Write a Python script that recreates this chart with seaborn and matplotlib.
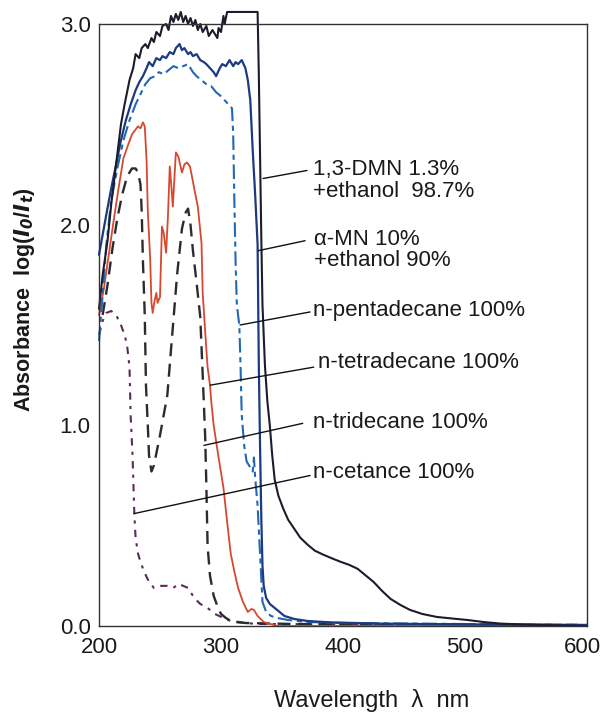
import numpy as np
import pandas as pd
import matplotlib
matplotlib.use("Agg")
import matplotlib.pyplot as plt
import matplotlib.transforms as mtransforms
import seaborn as sns

# ---------------- data ----------------
dmn_wl = [200, 203, 207, 210, 214, 218, 221, 225, 228, 230, 233, 235, 238, 240, 243, 245, 247,
          250, 252, 255, 257, 259, 261, 263, 265, 267, 269, 271, 273, 275, 277, 279, 281, 283,
          285, 288, 290, 293, 295, 297, 298, 300, 302, 303, 305, 330, 331, 332, 333, 334, 336,
          338, 340, 342, 344, 347, 351, 355, 360, 365, 371, 377, 384, 391, 398, 405, 412, 418,
          425, 432, 439, 447, 455, 465, 477, 490, 502, 515, 529, 550, 570, 600]
dmn_ab = [1.58, 1.75, 1.92, 2.10, 2.30, 2.50, 2.60, 2.72, 2.78, 2.85, 2.83, 2.88, 2.90, 2.88,
          2.93, 2.91, 2.96, 2.94, 2.99, 3.00, 2.97, 3.04, 3.01, 3.05, 3.02, 3.06, 3.01, 3.04,
          3.00, 3.03, 2.99, 3.02, 2.97, 3.00, 2.96, 2.99, 2.94, 2.97, 2.95, 2.93, 2.98, 2.96,
          3.04, 3.00, 3.06, 3.06, 2.75, 2.35, 1.95, 1.60, 1.30, 1.12, 1.00, 0.85, 0.73, 0.65,
          0.585, 0.53, 0.485, 0.44, 0.405, 0.375, 0.355, 0.337, 0.32, 0.305, 0.285, 0.255,
          0.22, 0.175, 0.135, 0.105, 0.08, 0.06, 0.045, 0.037, 0.03, 0.02, 0.012, 0.007, 0.004,
          0.0]

amn_wl = [200, 203, 206, 210, 214, 218, 222, 226, 230, 233, 236, 239, 241, 244, 247, 250, 252,
          255, 258, 261, 263, 266, 268, 270, 273, 275, 277, 280, 283, 286, 288, 291, 294, 296,
          299, 301, 304, 307, 310, 312, 314, 317, 320, 322, 324, 326, 328, 330, 331, 332, 333,
          334, 335, 337, 340, 346, 352, 360, 371, 390, 430, 500, 600]
amn_ab = [1.85, 1.95, 2.05, 2.18, 2.30, 2.42, 2.52, 2.60, 2.67, 2.71, 2.74, 2.78, 2.81, 2.79,
          2.83, 2.82, 2.84, 2.83, 2.86, 2.85, 2.88, 2.90, 2.87, 2.88, 2.85, 2.86, 2.84, 2.85,
          2.82, 2.81, 2.80, 2.78, 2.76, 2.74, 2.78, 2.80, 2.79, 2.82, 2.79, 2.81, 2.80, 2.82,
          2.78, 2.72, 2.62, 2.37, 2.15, 1.90, 1.30, 0.90, 0.55, 0.30, 0.20, 0.14, 0.11, 0.08,
          0.05, 0.035, 0.025, 0.018, 0.012, 0.008, 0.005]

pen_wl = [200, 203, 206, 210, 215, 220, 225, 230, 234, 238, 242, 246, 249, 253, 257, 261, 265,
          269, 273, 277, 280, 284, 288, 292, 296, 300, 303, 306, 309, 310, 311, 312, 313, 315,
          316, 317, 319, 321, 324, 326, 327, 328, 330, 332, 334, 337, 341, 346, 355, 370, 400,
          600]
pen_ab = [1.42, 1.65, 1.90, 2.12, 2.28, 2.42, 2.52, 2.60, 2.65, 2.70, 2.73, 2.74, 2.76, 2.75,
          2.77, 2.79, 2.78, 2.79, 2.80, 2.76, 2.74, 2.72, 2.70, 2.69, 2.66, 2.64, 2.62, 2.60,
          2.58, 2.45, 2.10, 1.80, 1.60, 1.50, 1.30, 1.05, 0.90, 0.82, 0.79, 0.77, 0.84, 0.74,
          0.60, 0.36, 0.12, 0.07, 0.05, 0.04, 0.03, 0.02, 0.015, 0.005]

tet_wl = [200, 204, 208, 212, 216, 220, 224, 227, 229.5, 232, 234, 236, 237.5, 239, 240, 242,
          243, 244, 245.5, 247, 248, 250, 251.6, 253, 255, 256.5, 258, 259.6, 260.5, 263, 265,
          268, 270, 272, 274.6, 278.7, 281, 284, 285, 287, 289, 291, 292, 294, 298, 302, 305,
          308, 311, 314, 318, 322, 325, 327, 330, 335, 346, 600]
tet_ab = [1.55, 1.68, 1.85, 2.02, 2.18, 2.33, 2.40, 2.45, 2.47, 2.49, 2.48, 2.51, 2.49, 2.32,
          2.07, 1.82, 1.61, 1.56, 1.62, 1.66, 1.61, 1.64, 1.99, 1.96, 1.86, 2.04, 2.29, 2.17,
          2.09, 2.36, 2.34, 2.26, 2.30, 2.31, 2.29, 2.16, 2.09, 1.91, 1.66, 1.47, 1.29, 1.20,
          1.12, 1.00, 0.84, 0.69, 0.52, 0.36, 0.27, 0.19, 0.12, 0.07, 0.085, 0.08, 0.05, 0.02,
          0.0, 0.0]

tri_wl = [203, 207, 211, 215, 219, 223, 227, 230, 232, 234, 235, 236, 237.5, 238.5, 240, 241,
          243, 245, 247, 250, 253, 256, 260, 264, 268, 271, 273, 275, 277, 280, 283, 285, 287,
          288, 289, 291, 294, 297, 300, 304, 308, 320, 360, 600]
tri_ab = [1.55, 1.70, 1.88, 2.03, 2.15, 2.24, 2.28, 2.28, 2.26, 2.20, 2.07, 1.82, 1.55, 1.20,
          1.00, 0.85, 0.77, 0.80, 0.86, 0.95, 1.05, 1.15, 1.45, 1.75, 1.98, 2.06, 2.08, 2.00,
          1.87, 1.71, 1.54, 1.25, 0.95, 0.70, 0.40, 0.25, 0.15, 0.10, 0.06, 0.04, 0.025, 0.015,
          0.01, 0.005]

cet_wl = [200, 203, 206, 210, 214, 218, 221, 223, 225, 226, 227.5, 229, 230, 232, 234, 237,
          241, 245, 250, 256, 261, 265, 269, 273, 278, 283, 289, 295, 302, 310, 330, 600]
cet_ab = [1.45, 1.52, 1.56, 1.57, 1.55, 1.50, 1.45, 1.40, 1.29, 1.04, 0.85, 0.55, 0.44, 0.36,
          0.32, 0.27, 0.22, 0.19, 0.20, 0.20, 0.19, 0.21, 0.20, 0.19, 0.14, 0.11, 0.09, 0.06,
          0.04, 0.02, 0.01, 0.005]

series_names = ["dmn", "amn", "pen", "tet", "tri", "cet"]
labels = ["1,3-DMN 1.3%\n+ethanol  98.7%", "\u03b1-MN 10%\n+ethanol 90%",
          "n-pentadecane 100%", "n-tetradecane 100%", "n-tridecane 100%", "n-cetance 100%"]
x_ticks = [200, 300, 400, 500, 600]
y_ticks = [0.0, 1.0, 2.0, 3.0]

# ---------------- styles / layout ----------------
colors = {"dmn": "#1c1c2c", "amn": "#1d3a80", "pen": "#2169b3",
          "tet": "#d8472f", "tri": "#2b2b33", "cet": "#5c2a58"}
dashes = {"dmn": "", "amn": "", "pen": (7, 2.2, 2.5, 2.2),
          "tet": "", "tri": (5.5, 3.2), "cet": (3.5, 3, 1.5, 3)}
widths = {"dmn": 1.5, "amn": 1.6, "pen": 1.5, "tet": 1.3, "tri": 1.7, "cet": 1.5}

# leader lines: (curve point) -> (text start), text anchor (x, y of block centre)
leaders = {"dmn": ((334.4, 2.23), (370.5, 2.27), (375.4, 2.22)),
           "amn": ((330.3, 1.87), (368.9, 1.92), (376.0, 1.873)),
           "pen": ((315.6, 1.50), (373.0, 1.565), (375.4, 1.574)),
           "tet": ((291.0, 1.20), (376.0, 1.29), (379.5, 1.315)),
           "tri": ((286.0, 0.90), (367.0, 1.01), (375.4, 1.016)),
           "cet": ((228.6, 0.56), (373.0, 0.75), (375.4, 0.767))}

frames = []
for name, wl, ab in [("dmn", dmn_wl, dmn_ab), ("amn", amn_wl, amn_ab), ("pen", pen_wl, pen_ab),
                     ("tet", tet_wl, tet_ab), ("tri", tri_wl, tri_ab), ("cet", cet_wl, cet_ab)]:
    frames.append(pd.DataFrame({"wl": wl, "ab": ab, "series": name}))

sns.set_style("white")
plt.rcParams["font.family"] = ["Liberation Sans", "DejaVu Sans"]
plt.rcParams["mathtext.fontset"] = "custom"
plt.rcParams["mathtext.rm"] = "Liberation Sans"
plt.rcParams["mathtext.it"] = "Liberation Sans:italic"
plt.rcParams["mathtext.bf"] = "Liberation Sans:bold"

W, H = 604, 719
fig = plt.figure(figsize=(W / 100, H / 100), dpi=100)
ax = fig.add_axes([99 / W, 1 - 626 / H, (587 - 99) / W, (626 - 24) / H])

draw_order = ["cet", "tri", "tet", "pen", "amn", "dmn"]
for name in draw_order:
    df = frames[series_names.index(name)]
    sns.lineplot(data=df, x="wl", y="ab", ax=ax, color=colors[name], lw=widths[name],
                 sort=False, estimator=None, legend=False, clip_on=False)
    line = ax.get_lines()[-1]
    if dashes[name] != "":
        line.set_dashes(dashes[name])

for name, lab in zip(series_names, labels):
    (x0, y0), (x1, y1), (xt, yt) = leaders[name]
    ax.plot([x0, x1], [y0, y1], color="#111111", lw=1.0)
    ax.text(xt, yt, lab, fontsize=16, va="center", ha="left", color="#1a1a1a",
            linespacing=1.02)

ax.set_xlim(200, 600)
ax.set_ylim(0, 3.0)
ax.set_xticks(x_ticks)
ax.set_yticks(y_ticks)
ax.set_xticklabels([str(t) for t in x_ticks])
ax.set_yticklabels([f"{t:.1f}" for t in y_ticks])
ax.tick_params(axis="both", direction="inout", length=8, width=1, colors="#222222",
               labelsize=16, labelcolor="#1a1a1a")
ax.tick_params(axis="y", pad=2)
ax.tick_params(axis="x", pad=4)
for sp in ax.spines.values():
    sp.set_color("#333333")
    sp.set_linewidth(1.0)

# nudge the last x tick label inward so it stays inside the canvas
last = ax.get_xticklabels()[-1]
last.set_transform(last.get_transform() +
                   mtransforms.ScaledTranslation(-5 / 100, 0, fig.dpi_scale_trans))

ax.set_xlabel("Wavelength  \u03bb  nm", fontsize=17, color="#1a1a1a")
ax.xaxis.set_label_coords(0.559, -0.104)
ax.set_ylabel(r"Absorbance  log($\mathbfit{I}_\mathbfit{0}$/$\mathbfit{I}_\mathbfit{t}$)",
              fontsize=15.5, fontweight="bold", color="#1a1a1a")
ax.yaxis.set_label_coords(-0.127, 0.5415)

fig.savefig("out.png", dpi=100, facecolor="white")
